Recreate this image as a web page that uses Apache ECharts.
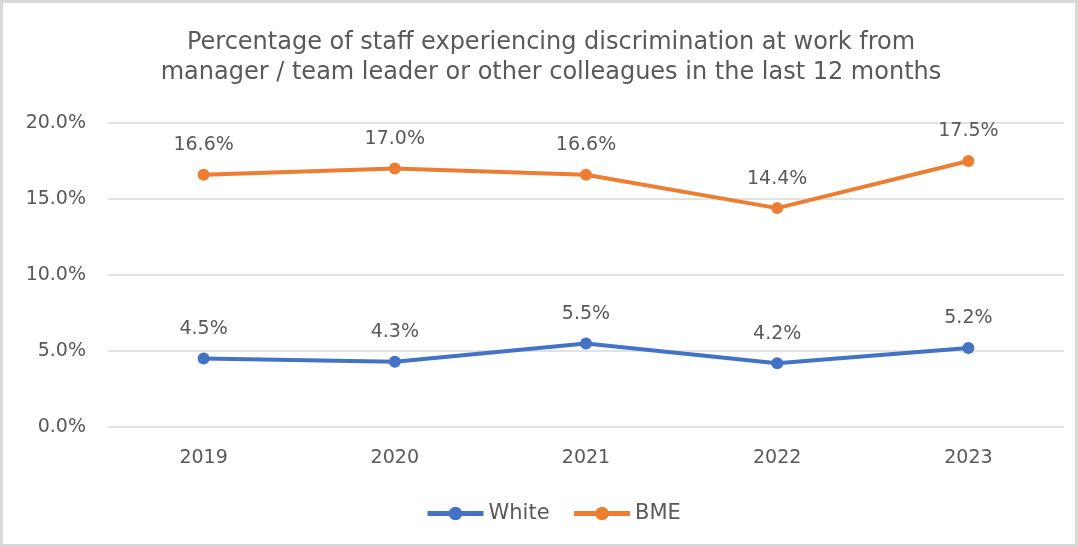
<!DOCTYPE html>
<html>
<head>
<meta charset="utf-8">
<script src="https://cdn.jsdelivr.net/npm/echarts@6/dist/echarts.min.js"></script>
<style>
  html, body { margin: 0; padding: 0; background: #fff; }
  #chart { width: 1078px; height: 547px; box-sizing: border-box; border: 3px solid #d9d9d9; }
</style>
</head>
<body>
<div id="chart"></div>
<script>
// Survey years and the share of staff reporting discrimination (%)
const years = ['2019', '2020', '2021', '2022', '2023'];
const whiteValues = [4.5, 4.3, 5.5, 4.2, 5.2];
const bmeValues = [16.6, 17.0, 16.6, 14.4, 17.5];
const titleText = 'Percentage of staff experiencing discrimination at work from\nmanager / team leader or other colleagues in the last 12 months';

const FONT = '"DejaVu Sans", sans-serif';
const TEXT = '#595959';

const chart = echarts.init(document.getElementById('chart'));

function lineSeries(name, data, color) {
  return {
    name: name,
    type: 'line',
    data: data,
    symbol: 'circle',
    symbolSize: 12,
    lineStyle: { width: 4, color: color },
    itemStyle: { color: color },
    label: {
      show: true,
      position: 'top',
      distance: 14,
      color: TEXT,
      fontFamily: FONT,
      fontSize: 19,
      formatter: p => p.value.toFixed(1) + '%'
    },
    emphasis: { disabled: true },
    animation: false
  };
}

chart.setOption({
  animation: false,
  title: {
    text: titleText,
    left: 543,
    textAlign: 'center',
    top: 20,
    textStyle: { color: TEXT, fontFamily: FONT, fontSize: 24, fontWeight: 'normal', lineHeight: 30 }
  },
  grid: { left: 105, right: 11, top: 120, bottom: 117 },
  xAxis: {
    type: 'category',
    data: years,
    boundaryGap: true,
    axisLine: { show: false },
    axisTick: { show: false },
    axisLabel: { color: TEXT, fontFamily: FONT, fontSize: 19, margin: 22 }
  },
  yAxis: {
    type: 'value',
    min: 0,
    max: 20,
    interval: 5,
    axisLine: { show: false },
    axisTick: { show: false },
    splitLine: { lineStyle: { color: '#d9d9d9', width: 1.5 } },
    axisLabel: { color: TEXT, fontFamily: FONT, fontSize: 19, margin: 22, formatter: v => v.toFixed(1) + '%' }
  },
  legend: {
    bottom: 15,
    left: 417,
    itemWidth: 56,
    itemHeight: 17,
    itemGap: 22,
    textStyle: { color: TEXT, fontFamily: FONT, fontSize: 21 },
    lineStyle: { width: 5 },
    data: ['White', 'BME']
  },
  series: [
    lineSeries('White', whiteValues, '#4472C4'),
    lineSeries('BME', bmeValues, '#ED7D31')
  ]
});
</script>
</body>
</html>
